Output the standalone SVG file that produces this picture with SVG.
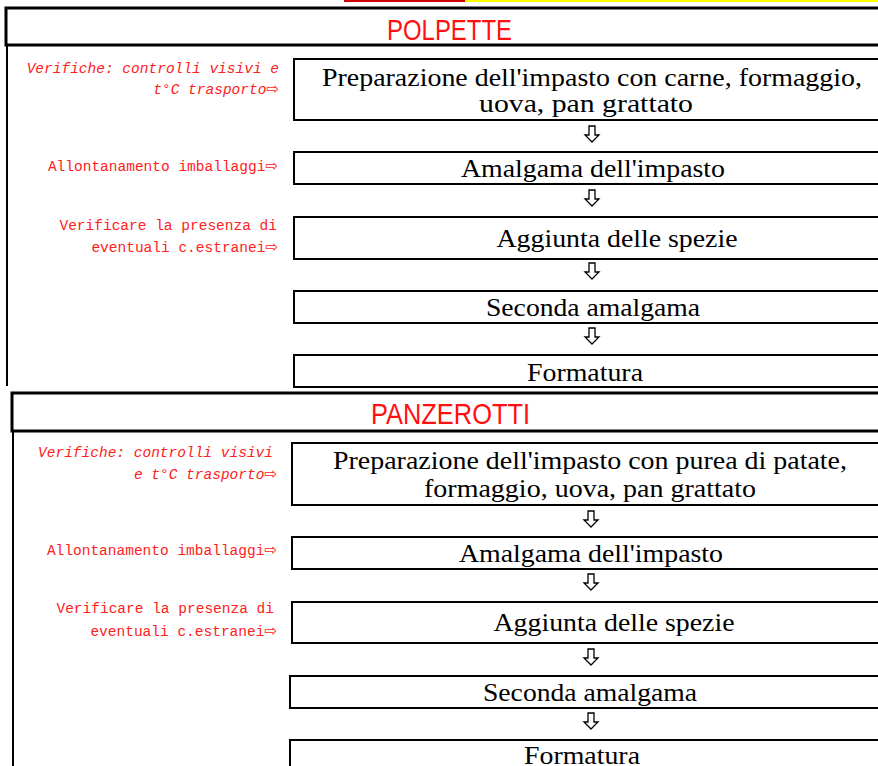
<svg xmlns="http://www.w3.org/2000/svg" width="878" height="766" viewBox="0 0 878 766">
<style>
.hdr{fill:#fff;stroke:#000;stroke-width:3}
.htxt{font-family:"Liberation Sans","Open Sans",sans-serif;font-size:29px;fill:#ff1010;text-anchor:middle}
.box{fill:#fff;stroke:#000;stroke-width:2}
.btxt{font-family:"Liberation Serif","Times New Roman",serif;font-size:24.5px;fill:#000;text-anchor:middle}
.lbl{font-family:"Liberation Mono","DejaVu Sans Mono",monospace;font-size:14.5px;fill:#ff2020;text-anchor:end}
.it{font-style:italic}
.ar{font-family:"DejaVu Sans",sans-serif;font-size:15px;font-style:normal}
.arr{fill:#fff;stroke:#000;stroke-width:1.3;stroke-linejoin:miter}
.vline{stroke:#000;stroke-width:2}
</style>
<rect x="0" y="0" width="878" height="766" fill="#fff"/>
<rect x="344" y="0" width="121" height="2" fill="#cc0000"/>
<rect x="465" y="0" width="413" height="2" fill="#ffff00"/>

<g id="sec1">
<g id="hdr1"><rect class="hdr" x="6" y="8" width="900" height="37"/><text class="htxt" x="449.5" y="40" textLength="125" lengthAdjust="spacingAndGlyphs">POLPETTE</text></g>
<line class="vline" x1="7" y1="45" x2="7" y2="386"/>
<g id="l1a"><text class="lbl it" x="279" y="73">Verifiche: controlli visivi e</text><text class="lbl it" x="279" y="94">t°C trasporto<tspan class="ar">⇨</tspan></text></g>
<g id="l1b"><text class="lbl" x="278" y="171">Allontanamento imballaggi<tspan class="ar">⇨</tspan></text></g>
<g id="l1c"><text class="lbl" x="277" y="230">Verificare la presenza di</text><text class="lbl" x="278" y="252">eventuali c.estranei<tspan class="ar">⇨</tspan></text></g>
<g id="p1"><rect class="box" x="294" y="59" width="600" height="61"/><text class="btxt" x="592" y="86" textLength="540" lengthAdjust="spacingAndGlyphs">Preparazione dell'impasto con carne, formaggio,</text><text class="btxt" x="586" y="112" textLength="214" lengthAdjust="spacingAndGlyphs">uova, pan grattato</text></g>
<g id="p2"><rect class="box" x="294" y="152" width="600" height="32"/><text class="btxt" x="593" y="177" textLength="264" lengthAdjust="spacingAndGlyphs">Amalgama dell'impasto</text></g>
<g id="p3"><rect class="box" x="294" y="217" width="600" height="42"/><text class="btxt" x="617" y="247" textLength="241" lengthAdjust="spacingAndGlyphs">Aggiunta delle spezie</text></g>
<g id="p4"><rect class="box" x="294" y="291" width="600" height="32"/><text class="btxt" x="593" y="316" textLength="214" lengthAdjust="spacingAndGlyphs">Seconda amalgama</text></g>
<g id="p5"><rect class="box" x="294" y="355" width="600" height="32"/><text class="btxt" x="585" y="381" textLength="116" lengthAdjust="spacingAndGlyphs">Formatura</text></g>
</g>

<g id="sec2">
<g id="hdr2"><rect class="hdr" x="12" y="393" width="900" height="38"/><text class="htxt" x="450.5" y="424" textLength="159" lengthAdjust="spacingAndGlyphs">PANZEROTTI</text></g>
<line class="vline" x1="13" y1="431" x2="13" y2="766"/>
<g id="l2a"><text class="lbl it" x="273" y="457">Verifiche: controlli visivi</text><text class="lbl it" x="277" y="479">e t°C trasporto<tspan class="ar">⇨</tspan></text></g>
<g id="l2b"><text class="lbl" x="277" y="555">Allontanamento imballaggi<tspan class="ar">⇨</tspan></text></g>
<g id="l2c"><text class="lbl" x="274" y="613">Verificare la presenza di</text><text class="lbl" x="277" y="636">eventuali c.estranei<tspan class="ar">⇨</tspan></text></g>
<g id="q1"><rect class="box" x="292" y="443" width="600" height="62"/><text class="btxt" x="590" y="469" textLength="514" lengthAdjust="spacingAndGlyphs">Preparazione dell'impasto con purea di patate,</text><text class="btxt" x="590" y="497" textLength="332" lengthAdjust="spacingAndGlyphs">formaggio, uova, pan grattato</text></g>
<g id="q2"><rect class="box" x="292" y="537" width="600" height="32"/><text class="btxt" x="591" y="562" textLength="264" lengthAdjust="spacingAndGlyphs">Amalgama dell'impasto</text></g>
<g id="q3"><rect class="box" x="292" y="602" width="600" height="41"/><text class="btxt" x="614" y="631" textLength="241" lengthAdjust="spacingAndGlyphs">Aggiunta delle spezie</text></g>
<g id="q4"><rect class="box" x="290" y="676" width="600" height="32"/><text class="btxt" x="590" y="701" textLength="214" lengthAdjust="spacingAndGlyphs">Seconda amalgama</text></g>
<g id="q5"><rect class="box" x="290" y="740" width="600" height="32"/><text class="btxt" x="582" y="764" textLength="116" lengthAdjust="spacingAndGlyphs">Formatura</text></g>
</g>

<g id="connectors">
<path class="arr" d="M589,126 h6 v9 h4 l-7,7 l-7,-7 h4 z"/>
<path class="arr" d="M589,190 h6 v9 h4 l-7,7 l-7,-7 h4 z"/>
<path class="arr" d="M589,263 h6 v9 h4 l-7,7 l-7,-7 h4 z"/>
<path class="arr" d="M589,328 h6 v9 h4 l-7,7 l-7,-7 h4 z"/>
<path class="arr" d="M588,511 h6 v9 h4 l-7,7 l-7,-7 h4 z"/>
<path class="arr" d="M588,574 h6 v9 h4 l-7,7 l-7,-7 h4 z"/>
<path class="arr" d="M588,649 h6 v9 h4 l-7,7 l-7,-7 h4 z"/>
<path class="arr" d="M588,713 h6 v9 h4 l-7,7 l-7,-7 h4 z"/>
</g>
</svg>
